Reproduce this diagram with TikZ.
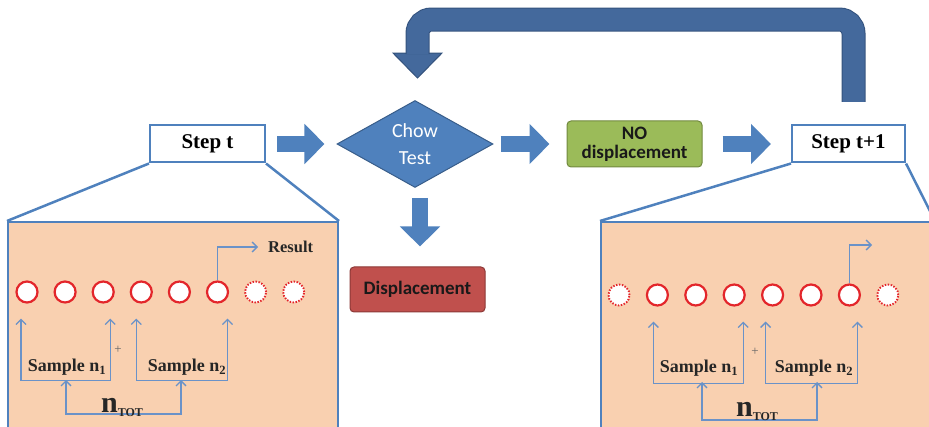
\documentclass[tikz,border=0pt]{standalone}
\usepackage{fontspec}
\setmainfont{Liberation Serif}
\newfontfamily\calibfont{Carlito}
\usetikzlibrary{shapes.geometric,arrows.meta,calc}

\definecolor{chowblue}{HTML}{4F81BD}
\definecolor{chowedge}{HTML}{385D8A}
\definecolor{loopblue}{HTML}{44699C}
\definecolor{loopedge}{HTML}{33527D}
\definecolor{peach}{HTML}{F9D0B0}
\definecolor{slotred}{HTML}{E3262B}
\definecolor{pickblue}{HTML}{6A92C8}
\definecolor{nogreen}{HTML}{9BBB59}
\definecolor{noedge}{HTML}{71893F}
\definecolor{dispred}{HTML}{C0504D}
\definecolor{dispedge}{HTML}{8C3836}

% bracket under two slots, arrows pointing up
\newcommand{\pickpair}[4]{\draw[pick,<->] ($(#1.south)+(#3,15)$) -- ++(0,62) -| ($(#2.south)+(#4,15)$);}

\tikzset{
  stepbox/.style={draw=chowblue, line width=2pt, fill=white, minimum width=115pt, minimum height=37pt, font=\fontsize{21}{24}\selectfont\bfseries},
  panel/.style={draw=chowblue, line width=2pt, fill=peach, minimum width=330pt, minimum height=218pt},
  zoomline/.style={draw=chowblue, line width=2.5pt},
  slot/.style={circle, draw=slotred, line width=2.2pt, fill=white, minimum size=21pt, inner sep=0pt},
  slotgone/.style={slot, line width=1.9pt, dash pattern=on 1.5pt off 1.5pt},
  pick/.style={draw=pickblue, line width=1.3pt, >={Straight Barb[length=5pt,width=10pt]}},
  lbl/.style={font=\fontsize{18}{20}\selectfont\bfseries, text=black!85, inner sep=0pt},
  plus/.style={font=\fontsize{13}{14}\selectfont, text=black!60, inner sep=0pt},
  ntot/.style={font=\fontsize{30}{30}\selectfont\bfseries, text=black!85, inner sep=0pt},
  blockarrow/.style={draw=chowblue, line width=16pt, -{Triangle[length=20pt,width=39pt]}},
  loopband/.style={draw=loopedge, line width=1pt, double=loopblue, double distance=22pt, rounded corners=14pt},
  decision/.style={diamond, fill=chowblue, draw=chowedge, line width=1pt, minimum width=156pt, minimum height=84pt, inner sep=0pt, align=center, text=white, font=\calibfont\fontsize{20}{27}\selectfont},
  outcome/.style={rounded corners=4pt, line width=1pt, minimum width=135pt, minimum height=45pt, inner sep=0pt, align=center, text=black!90, font=\calibfont\bfseries\fontsize{19}{22}\selectfont},
}

\begin{document}
\begin{tikzpicture}[x=1pt,y=-1pt]
\useasboundingbox (0,0) rectangle (929,427);

% zoomed panels
\node[panel] (panelA) at (173,331) {};
\node[panel, minimum width=333pt] (panelB) at (767.5,331) {};

\node[stepbox] (stepA) at (207.5,144) {Step t};
\node[stepbox, minimum width=113pt] (stepB) at (848.5,144) {Step t+1};

\draw[zoomline] (stepA.south west) -- (panelA.north west);
\draw[zoomline] (stepA.south east) -- (panelA.north east);
\draw[zoomline] (stepB.south west) -- (panelB.north west);
\draw[zoomline] (stepB.south east) -- (panelB.north east);

% flow
\node[decision] (chow) at (415,144) {Chow\\Test};
\node[outcome, fill=nogreen, draw=noedge, minimum height=46pt] (nodisp) at (634.5,144) {NO\\[-3pt]displacement};
\node[outcome, fill=dispred, draw=dispedge] (disp) at (417.5,289.5) {Displacement};

\draw[blockarrow, shorten <=11pt, shorten >=12pt] (stepA) -- (chow);
\draw[blockarrow, shorten <=7pt, shorten >=17pt] (chow) -- (nodisp);
\draw[blockarrow, shorten <=20pt, shorten >=20pt] (nodisp) -- (stepB);
\draw[blockarrow, shorten <=10pt, shorten >=20pt] ([xshift=5pt]chow.south) -- ([xshift=5pt]chow.south |- disp.north);

% back to the test
\coordinate (loopfrom) at ($(stepB.north)+(5,-22.5)$);
\coordinate (loopto) at ($(chow.north)+(2.5,-22)$);
\filldraw[fill=loopblue, draw=loopedge, line width=1pt] (loopto) -- ++(-24.5,-25) -- ++(49,0) -- cycle;
\draw[loopband] (loopfrom) |- ($(loopto)+(0,-58.5)$) -- ($(loopto)+(0,-24)$);

% step t
\foreach \i/\s in {1/slot,2/slot,3/slot,4/slot,5/slot,6/slot,7/slotgone,8/slotgone}
  \node[\s] (a\i) at ({27+38.1*(\i-1)},292) {};
\node[lbl, anchor=west, font=\fontsize{16.5}{18}\selectfont\bfseries] (res) at (268,247) {Result};
\draw[pick,->, shorten >=10pt] (a6) |- (res);
\pickpair{a1}{a3}{-6}{7}
\pickpair{a4}{a6}{-5}{10}
\node[lbl, anchor=base] (sA1) at (67,372) {Sample n\textsubscript{1}};
\node[lbl, anchor=base] (sA2) at (187,372) {Sample n\textsubscript{2}};
\node[plus] (pA) at (118,350) {+};
\draw[pick,<->] ($(sA1.base)+(-1,8)$) -- ++(0,34) -| ($(sA2.base)+(-6,8)$);
\node[ntot, anchor=base] (nA) at (122,413) {n{\fontsize{12}{12}\selectfont\raisebox{-4pt}{TOT}}};

% step t+1
\foreach \i/\s in {1/slotgone,2/slot,3/slot,4/slot,5/slot,6/slot,7/slot,8/slotgone}
  \node[\s] (b\i) at ({619+38.4*(\i-1)},295) {};
\coordinate (resB) at (872,245);
\draw[pick,->] (b7) |- (resB);
\pickpair{b2}{b4}{-4}{9}
\pickpair{b5}{b7}{-7}{8}
\node[lbl, anchor=base] (sB1) at (699,373) {Sample n\textsubscript{1}};
\node[lbl, anchor=base] (sB2) at (814,373) {Sample n\textsubscript{2}};
\node[plus] (pB) at (755,352) {+};
\draw[pick,<->] ($(sB1.base)+(3,9)$) -- ++(0,38) -| ($(sB2.base)+(3,9)$);
\node[ntot, anchor=base] (nB) at (757,417) {n{\fontsize{12}{12}\selectfont\raisebox{-4pt}{TOT}}};
\end{tikzpicture}
\end{document}
